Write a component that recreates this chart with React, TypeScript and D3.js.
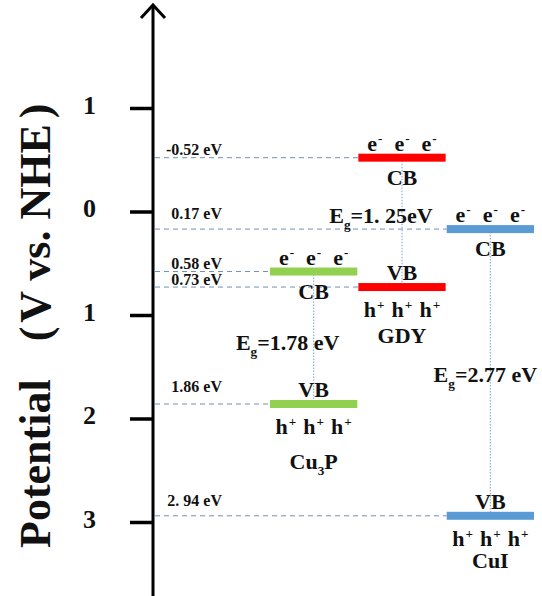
import React, { useEffect, useRef } from "react";
import * as d3 from "d3";

// band edges (V vs. NHE)
const materials = ["Cu3P", "GDY", "CuI"];
const cbValues = [0.58, -0.52, 0.17];
const vbValues = [1.86, 0.73, 2.94];
const cbLabels = ["0.58 eV", "-0.52 eV", "0.17 eV"];
const vbLabels = ["1.86 eV", "0.73 eV", "2. 94 eV"];
const gapLabels = ["=1.78 eV", "=1. 25eV", "=2.77 eV"];
const nameParts = [
  [{ t: "Cu" }, { t: "3", sub: true }, { t: "P" }],
  [{ t: "GDY" }],
  [{ t: "CuI" }],
];
const tickValues = [-1, 0, 1, 2, 3];
const tickLabels = ["1", "0", "1", "2", "3"];

// layout / style
const colors = ["#92d050", "#ff0000", "#5b9bd5"];
const gapLabelAt = [1.34, 0.11, 1.65];
const gapLabelDx = [-26, -21, -5];
const nameDy = [65, 56, 52];
const cbLabelDy = [-3, -3, -10];
const vbLabelDy = [-12, -2, -10];

export default function App() {
  const ref = useRef(null);

  useEffect(() => {
    draw();
  }, []);

  let draw = () => {
    const width = 542;
    const height = 596;
    const font = "'Liberation Serif', 'Times New Roman', serif";
    const axisX = 153;

    const root = d3.select(ref.current);
    root.selectAll("*").remove();

    const svg = root
      .append("svg")
      .attr("width", width)
      .attr("height", height)
      .style("position", "absolute")
      .style("left", 0)
      .style("top", 0)
      .style("background", "#fff")
      .attr("font-family", font)
      .attr("font-weight", "bold");

    const y = d3.scaleLinear().domain([-1, 3]).range([108, 522]);
    const x = d3
      .scaleBand()
      .domain(materials)
      .range([270, 534])
      .paddingInner(0.012);
    const bw = x.bandwidth();
    const cx = (m) => x(m) + bw / 2;

    const rich = (x0, y0, parts, size) => {
      const t = svg
        .append("text")
        .attr("x", x0)
        .attr("y", y0)
        .attr("text-anchor", "middle")
        .attr("font-size", size)
        .attr("fill", "#111");
      let shift = 0;
      parts.forEach((p) => {
        const s = p.sup ? -0.36 * size : p.sub ? 0.28 * size : 0;
        t.append("tspan")
          .attr("dy", s - shift)
          .attr("dx", p.dx || 0)
          .attr("font-size", p.sup || p.sub ? size * 0.6 : size)
          .text(p.t);
        shift = s;
      });
    };

    const triple = (ch, sign, gap) => {
      const parts = [];
      for (let i = 0; i < 3; i++) {
        parts.push({ t: ch, dx: i ? gap : 0 });
        parts.push({ t: sign, sup: true, dx: 1 });
      }
      return parts;
    };

    // dashed level lines from axis to the bars
    const levels = [];
    materials.forEach((m, i) => {
      levels.push({ v: cbValues[i], label: cbLabels[i], m, dy: cbLabelDy[i] });
      levels.push({ v: vbValues[i], label: vbLabels[i], m, dy: vbLabelDy[i] });
    });

    svg
      .selectAll("line.level")
      .data(levels)
      .enter()
      .append("line")
      .attr("class", "level")
      .attr("x1", axisX + 2)
      .attr("x2", (d) => x(d.m))
      .attr("y1", (d) => y(d.v))
      .attr("y2", (d) => y(d.v))
      .attr("stroke", "#7390b3")
      .attr("stroke-width", 1)
      .attr("stroke-dasharray", "5,4");

    svg
      .selectAll("text.level")
      .data(levels)
      .enter()
      .append("text")
      .attr("class", "level")
      .attr("x", 222)
      .attr("y", (d) => y(d.v) + d.dy)
      .attr("text-anchor", "end")
      .attr("font-size", 16)
      .attr("fill", "#111")
      .text((d) => d.label);

    // dotted gap lines
    svg
      .selectAll("line.gap")
      .data(materials)
      .enter()
      .append("line")
      .attr("class", "gap")
      .attr("x1", (d) => cx(d))
      .attr("x2", (d) => cx(d))
      .attr("y1", (d, i) => y(cbValues[i]))
      .attr("y2", (d, i) => y(vbValues[i]))
      .attr("stroke", "#8db4dc")
      .attr("stroke-width", 1.2)
      .attr("stroke-dasharray", "1.5,1.5");

    // band bars
    const bh = 8;
    svg
      .selectAll("rect.cb")
      .data(materials)
      .enter()
      .append("rect")
      .attr("x", (d) => x(d))
      .attr("y", (d, i) => y(cbValues[i]) - bh / 2)
      .attr("width", bw)
      .attr("height", bh)
      .attr("fill", (d, i) => colors[i]);

    svg
      .selectAll("rect.vb")
      .data(materials)
      .enter()
      .append("rect")
      .attr("x", (d) => x(d))
      .attr("y", (d, i) => y(vbValues[i]) - bh / 2)
      .attr("width", bw)
      .attr("height", bh)
      .attr("fill", (d, i) => colors[i]);

    // band annotations
    materials.forEach((m, i) => {
      const c = cx(m);
      const yc = y(cbValues[i]);
      const yv = y(vbValues[i]);
      rich(c, yc - 7, triple("e", "-", 12), 22);
      rich(c, yc + 27, [{ t: "CB" }], 22);
      rich(c, yv - 7, [{ t: "VB" }], 22);
      rich(c, yv + 30, triple("h", "+", 7), 22);
      rich(c, yv + nameDy[i], nameParts[i], 22);
      rich(
        c + gapLabelDx[i],
        y(gapLabelAt[i]),
        [{ t: "E" }, { t: "g", sub: true }, { t: gapLabels[i] }],
        22
      );
    });

    // vertical axis with ticks
    const axis = svg
      .append("g")
      .attr("transform", `translate(${axisX},0)`)
      .call(
        d3
          .axisLeft(y)
          .tickValues(tickValues)
          .tickSize(23)
          .tickPadding(34)
          .tickFormat((d, i) => tickLabels[i])
      );
    axis.select(".domain").remove();
    axis.selectAll(".tick line").attr("stroke", "#000").attr("stroke-width", 3.5);
    axis
      .selectAll(".tick text")
      .attr("font-family", font)
      .attr("font-weight", "bold")
      .attr("font-size", 26)
      .attr("fill", "#111")
      .attr("dy", "0.2em");

    svg
      .append("line")
      .attr("x1", axisX)
      .attr("x2", axisX)
      .attr("y1", height)
      .attr("y2", 5)
      .attr("stroke", "#000")
      .attr("stroke-width", 3);
    svg
      .append("polyline")
      .attr("points", `${axisX - 12},18 ${axisX},5 ${axisX + 12},18`)
      .attr("fill", "none")
      .attr("stroke", "#000")
      .attr("stroke-width", 3);

    // axis title
    const title = svg
      .append("text")
      .attr("transform", "translate(50,548) rotate(-90)")
      .attr("font-size", 44)
      .attr("fill", "#111");
    title.append("tspan").text("Potential");
    title.append("tspan").attr("dx", 38).text("(");
    title.append("tspan").attr("dx", 4).text("V vs. NHE");
    title.append("tspan").attr("dx", 6).text(")");
  };

  return <div id="band_chart" ref={ref}></div>;
}
